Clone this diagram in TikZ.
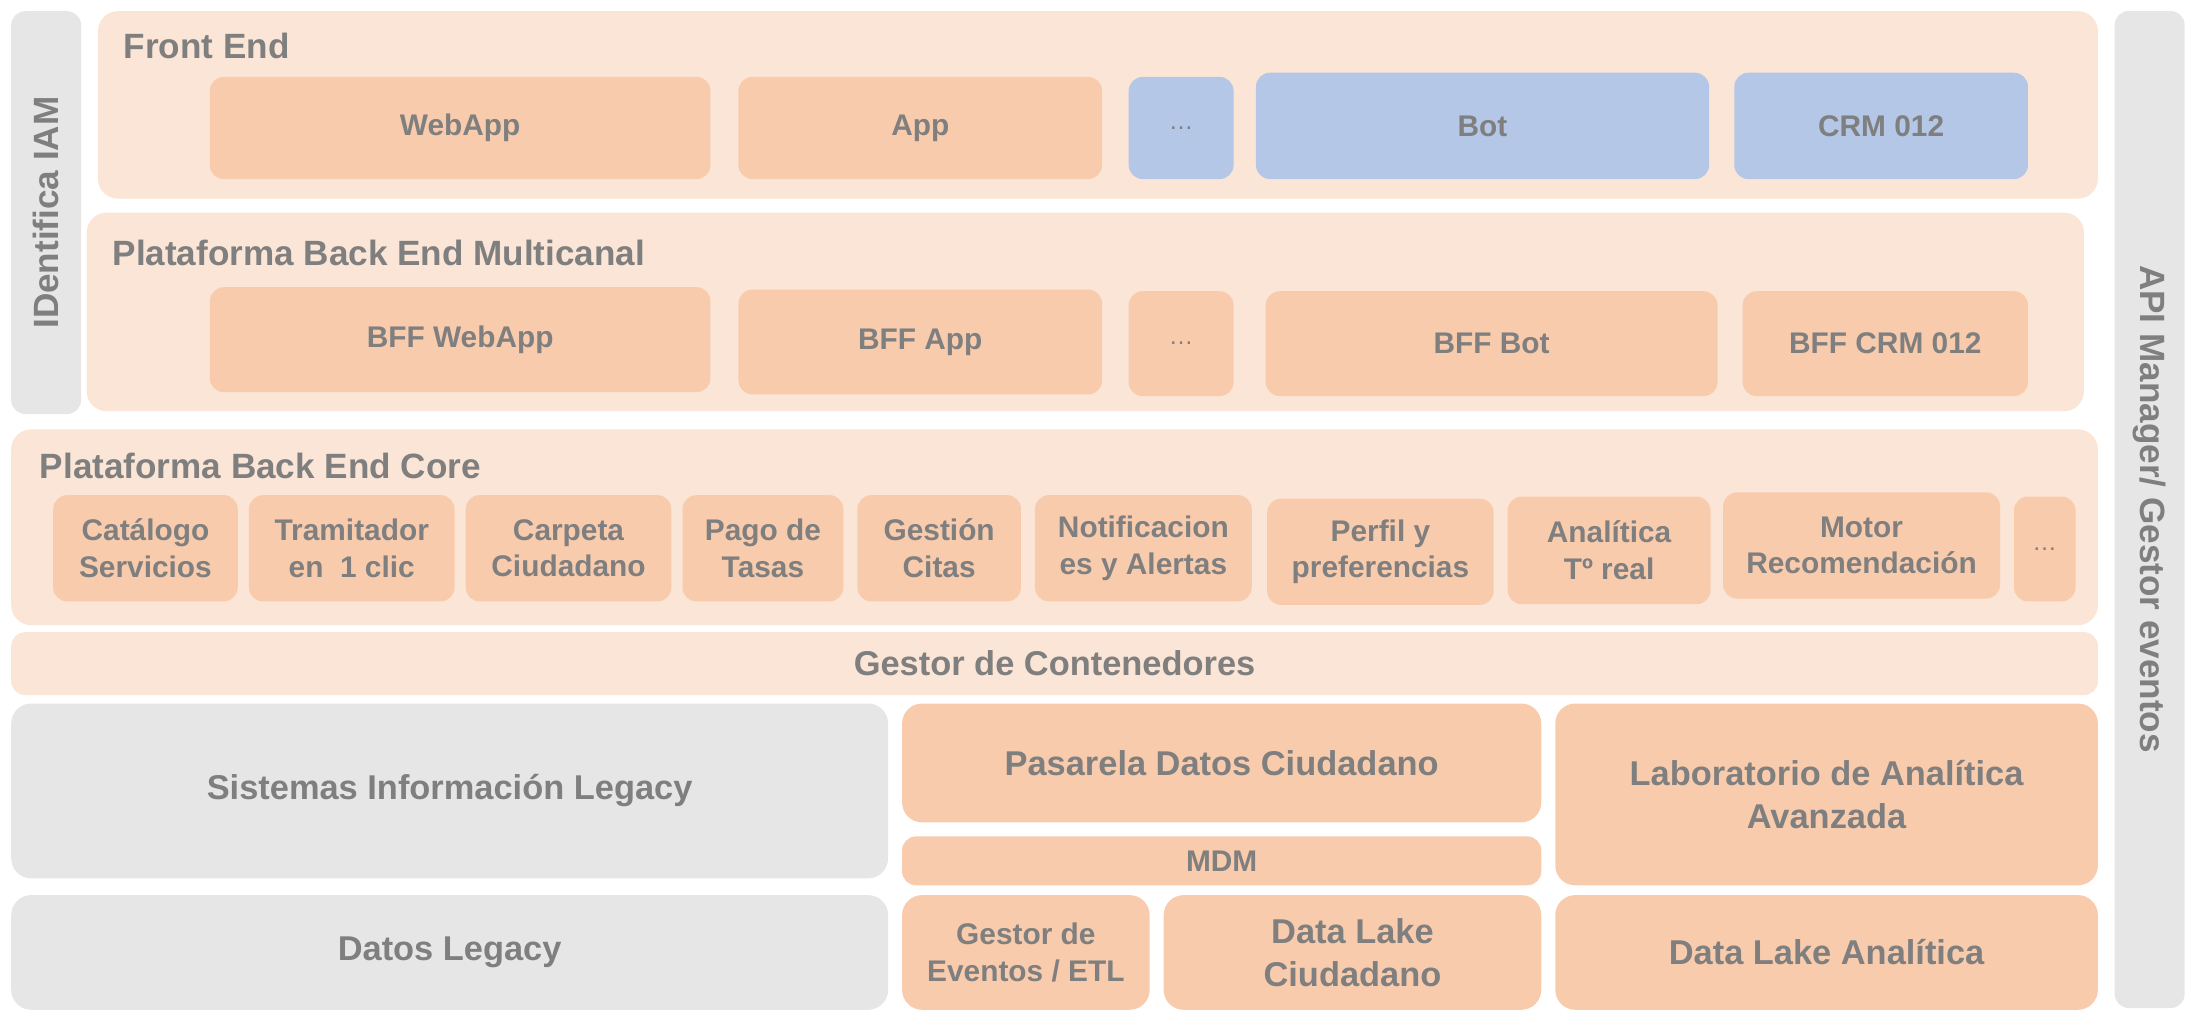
\documentclass[tikz,border=0pt]{standalone}
\usepackage{fontspec}
\setmainfont{Liberation Sans}
\definecolor{layerpeach}{HTML}{FBE5D6}
\definecolor{comppeach}{HTML}{F8CBAD}
\definecolor{compblue}{HTML}{B4C7E7}
\definecolor{legacygray}{HTML}{E7E6E6}
\definecolor{textgray}{HTML}{7F7F7F}

\begin{document}
\begin{tikzpicture}[
layer/.style ={rectangle, rounded corners=0.2cm, fill=layerpeach, inner sep=0pt},
title/.style ={inner sep=0pt, text=textgray, font=\fontsize{10}{12}\selectfont\bfseries},
comp/.style ={rectangle, rounded corners=0.14cm, fill=comppeach, text=textgray, align=center,
inner sep=0pt, font=\fontsize{8.5}{10.4}\selectfont\bfseries},
bluecomp/.style ={comp, fill=compblue},
bigcomp/.style ={comp, font=\fontsize{9.8}{12.2}\selectfont\bfseries},
legacy/.style ={bigcomp, fill=legacygray},
sidebar/.style ={rectangle, rounded corners=0.14cm, fill=legacygray, text=textgray,
inner sep=0pt, font=\fontsize{10}{12}\selectfont\bfseries}]

\useasboundingbox (0,0) rectangle (21.952,-10.108);

\node[sidebar, minimum width=0.7cm, minimum height=4.032cm] (iam) at (0.462,-2.128) {};
\node[sidebar, rotate=90] (iamtext) at (0.462,-2.128) {IDentifica IAM};
\node[sidebar, minimum width=0.7cm, minimum height=9.98cm] (api) at (21.518,-5.10) {};
\node[sidebar, rotate=-90] (apitext) at (21.518,-5.096) {API Manager/ Gestor eventos};

\node[layer, minimum width=20.02cm, minimum height=1.876cm] (front) at (10.99,-1.05) {};
\node[title, anchor=base west] (fronttitle) at (1.232,-0.588) {Front End};
\node[comp, minimum width=5.012cm, minimum height=1.022cm] (webapp) at (4.606,-1.281) {WebApp};
\node[comp, minimum width=3.64cm, minimum height=1.022cm] (app) at (9.212,-1.281) {App};
\node[bluecomp, minimum width=1.05cm, minimum height=1.022cm] (frontdots) at (11.823,-1.281) {\fontsize{7}{8}\selectfont\mdseries\dots};
\node[bluecomp, minimum width=4.536cm, minimum height=1.064cm] (bot) at (14.84,-1.26) {Bot};
\node[bluecomp, minimum width=2.94cm, minimum height=1.064cm] (crm) at (18.83,-1.26) {CRM 012};

\node[layer, minimum width=19.992cm, minimum height=1.988cm] (multi) at (10.864,-3.122) {};
\node[title, anchor=base west] (multititle) at (1.12,-2.66) {Plataforma Back End Multicanal};
\node[comp, minimum width=5.012cm, minimum height=1.05cm] (bffwebapp) at (4.606,-3.40) {BFF WebApp};
\node[comp, minimum width=3.64cm, minimum height=1.05cm] (bffapp) at (9.212,-3.423) {BFF App};
\node[comp, minimum width=1.05cm, minimum height=1.05cm] (bffdots) at (11.823,-3.44) {\fontsize{7}{8}\selectfont\mdseries\dots};
\node[comp, minimum width=4.522cm, minimum height=1.05cm] (bffbot) at (14.931,-3.44) {BFF Bot};
\node[comp, minimum width=2.856cm, minimum height=1.05cm] (bffcrm) at (18.872,-3.44) {BFF CRM 012};

\node[layer, minimum width=20.888cm, minimum height=1.96cm] (core) at (10.556,-5.278) {};
\node[title, anchor=base west] (coretitle) at (0.392,-4.788) {Plataforma Back End Core};
\node[comp, minimum width=1.848cm, minimum height=1.064cm] (catalogo) at (1.456,-5.488) {Catálogo\\Servicios};
\node[comp, minimum width=2.058cm, minimum height=1.064cm] (tramitador) at (3.521,-5.488) {Tramitador\\en\ \ 1 clic};
\node[comp, minimum width=2.058cm, minimum height=1.064cm] (carpeta) at (5.691,-5.488) {Carpeta\\Ciudadano};
\node[comp, minimum width=1.61cm, minimum height=1.064cm] (pago) at (7.637,-5.488) {Pago de\\Tasas};
\node[comp, minimum width=1.638cm, minimum height=1.064cm] (citas) at (9.401,-5.488) {Gestión\\Citas};
\node[comp, minimum width=2.17cm, minimum height=1.064cm] (notif) at (11.445,-5.488) {Notificacion\\es y Alertas};
\node[comp, minimum width=2.268cm, minimum height=1.064cm] (perfil) at (13.818,-5.523) {Perfil y\\preferencias};
\node[comp, minimum width=2.03cm, minimum height=1.078cm] (analitica) at (16.107,-5.509) {Analítica\\Tº real};
\node[comp, minimum width=2.772cm, minimum height=1.064cm] (motor) at (18.634,-5.46) {Motor\\Recomendación};
\node[comp, minimum width=0.616cm, minimum height=1.05cm] (coredots) at (20.468,-5.495) {\fontsize{7}{8}\selectfont\mdseries\dots};

\node[layer, minimum width=20.888cm, minimum height=0.63cm, rounded corners=0.14cm] (contenedores) at (10.556,-6.643) {};
\node[bigcomp, fill=none] (contenedorestext) at (10.556,-6.643) {Gestor de Contenedores};

\node[legacy, minimum width=8.778cm, minimum height=1.75cm, rounded corners=0.2cm] (sistemas) at (4.501,-7.917) {Sistemas Información Legacy};
\node[bigcomp, minimum width=6.398cm, minimum height=1.19cm, rounded corners=0.2cm] (pasarela) at (12.229,-7.637) {Pasarela Datos Ciudadano};
\node[comp, minimum width=6.398cm, minimum height=0.49cm] (mdm) at (12.229,-8.617) {MDM};
\node[bigcomp, minimum width=5.432cm, minimum height=1.82cm, rounded corners=0.2cm] (laboratorio) at (18.284,-7.952) {Laboratorio de Analítica\\Avanzada};

\node[legacy, minimum width=8.778cm, minimum height=1.148cm, rounded corners=0.2cm] (datoslegacy) at (4.501,-9.534) {Datos Legacy};
\node[comp, minimum width=2.478cm, minimum height=1.148cm, rounded corners=0.2cm] (eventos) at (10.269,-9.534) {Gestor de\\Eventos / ETL};
\node[bigcomp, minimum width=3.78cm, minimum height=1.148cm, rounded corners=0.2cm] (lakeciudadano) at (13.538,-9.534) {Data Lake\\Ciudadano};
\node[bigcomp, minimum width=5.432cm, minimum height=1.148cm, rounded corners=0.2cm] (lakeanalitica) at (18.284,-9.534) {Data Lake Analítica};
\end{tikzpicture}
\end{document}
